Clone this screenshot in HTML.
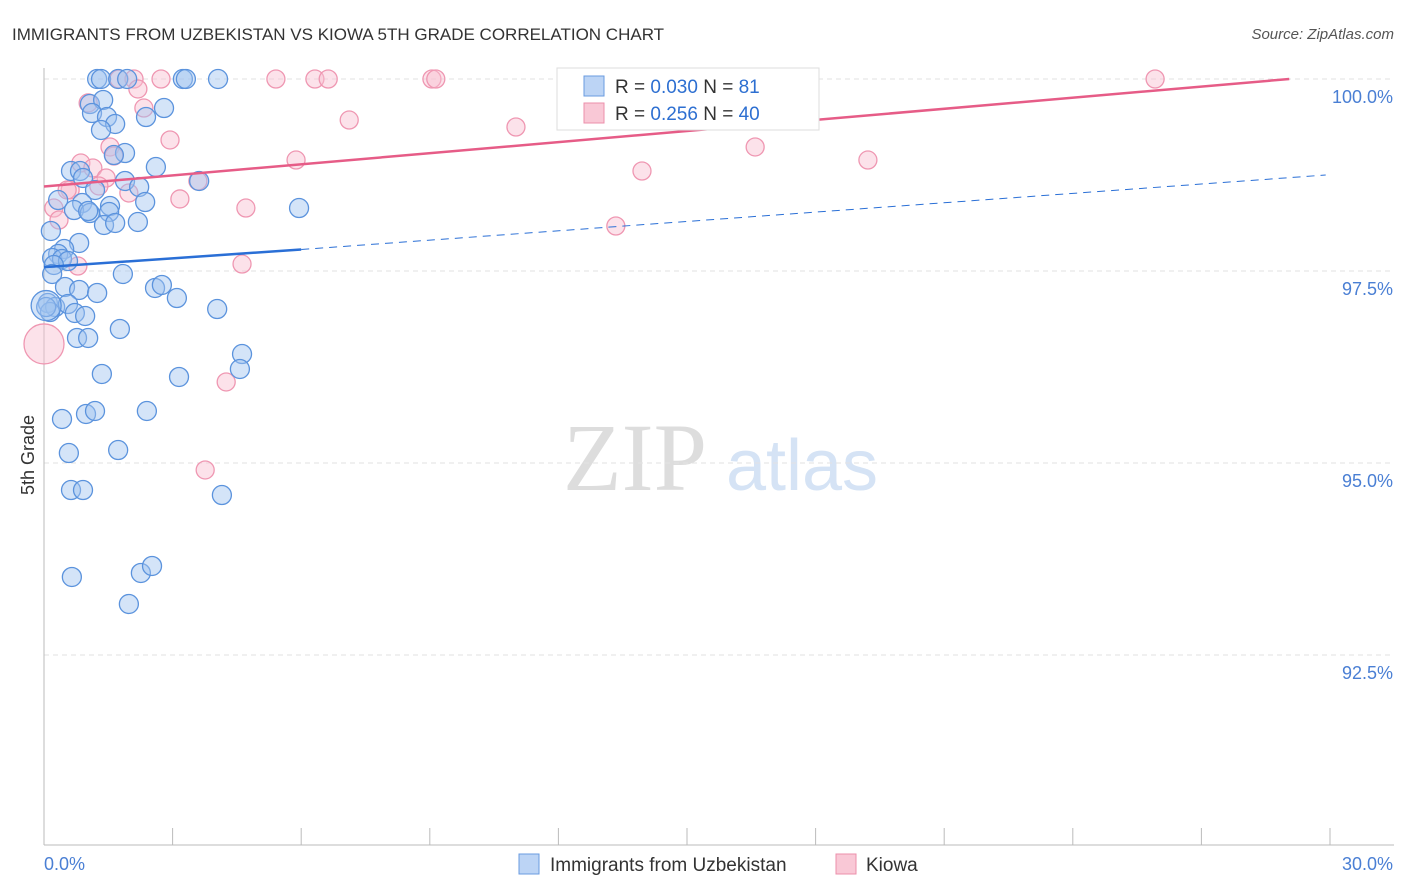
<!DOCTYPE html>
<html><head><meta charset="utf-8"><style>
body{margin:0;background:#fff;font-family:"Liberation Sans",sans-serif}
svg{display:block}
</style></head><body>
<svg id="c" width="1406" height="892">
<text x="12" y="40" font-size="17" fill="#333">IMMIGRANTS FROM UZBEKISTAN VS KIOWA 5TH GRADE CORRELATION CHART</text>
<text x="1394" y="39" font-size="15" fill="#555" font-style="italic" text-anchor="end">Source: ZipAtlas.com</text>
<text x="34" y="455" font-size="18" fill="#333" text-anchor="middle" transform="rotate(-90 34 455)">5th Grade</text>
<g><text x="635" y="490" font-size="96" fill="#ddd" font-family="Liberation Serif,serif" text-anchor="middle">ZIP</text><text x="802" y="490" font-size="72" fill="#d5e3f5" text-anchor="middle">atlas</text></g>
<g id="grid"></g><g id="axes"></g><g id="pts"></g><g id="lines"></g>
<g>
<rect x="557" y="68" width="262" height="62" fill="#fff" stroke="#ddd"/>
<rect x="584" y="76" width="20" height="20" fill="#bcd4f5" stroke="#6a9be0"/>
<rect x="584" y="103" width="20" height="20" fill="#f9c8d6" stroke="#ec8fab"/>
<text x="615" y="93" font-size="19" fill="#333">R = <tspan fill="#2d6fd1">0.030</tspan>   N =  <tspan fill="#2d6fd1">81</tspan></text>
<text x="615" y="120" font-size="19" fill="#333">R =  <tspan fill="#2d6fd1">0.256</tspan>   N = <tspan fill="#2d6fd1">40</tspan></text>
</g>
<g>
<rect x="519" y="854" width="20" height="20" fill="#bcd4f5" stroke="#6a9be0"/>
<text x="550" y="871" font-size="19" fill="#333">Immigrants from Uzbekistan</text>
<rect x="836" y="854" width="20" height="20" fill="#f9c8d6" stroke="#ec8fab"/>
<text x="866" y="871" font-size="19" fill="#333">Kiowa</text>
</g>
</svg>
<script>
const yTicks=[100,97.5,95,92.5];
const yTickLabels=["100.0%","97.5%","95.0%","92.5%"];
const xEndLabels=["0.0%","30.0%"];
const bluePx=[[97,79],[101,79],[118,79],[127,79],[183,79],[186,79],[218,79],[90,104],[103,100],[92,113],[107,117],[115,124],[164,108],[146,117],[101,130],[125,153],[114,155],[71,171],[80,171],[156,167],[83,178],[125,181],[139,187],[95,190],[58,200],[82,203],[110,206],[145,202],[199,181],[299,208],[74,210],[90,213],[88,211],[109,212],[138,222],[104,225],[115,223],[51,231],[79,243],[64,249],[58,254],[52,258],[62,259],[68,261],[54,265],[52,274],[123,274],[65,287],[79,290],[97,293],[155,288],[162,285],[177,298],[217,309],[48,303],[55,307],[68,304],[75,313],[85,316],[50,312],[120,329],[77,338],[88,338],[242,354],[240,369],[102,374],[179,377],[62,419],[86,414],[95,411],[147,411],[69,453],[118,450],[71,490],[83,490],[222,495],[72,577],[141,573],[152,566],[129,604],[46,307]];
const pinkPx=[[119,79],[161,79],[134,79],[276,79],[315,79],[328,79],[432,79],[436,79],[737,79],[1155,79],[138,89],[88,103],[144,108],[349,120],[170,140],[516,127],[110,147],[114,156],[755,147],[868,160],[296,160],[81,163],[93,168],[642,171],[106,178],[70,190],[99,186],[198,181],[129,193],[180,199],[54,208],[246,208],[59,220],[616,226],[78,266],[242,264],[226,382],[205,470],[67,190]];
// convert read pixel positions to data values (x in %, y in %)
const blueX=bluePx.map(p=>+((p[0]-44)/1286*30).toFixed(2));
const blueY=bluePx.map(p=>+(100-(p[1]-79)/192*2.5).toFixed(3));
const pinkX=pinkPx.map(p=>+((p[0]-44)/1286*30).toFixed(2));
const pinkY=pinkPx.map(p=>+(100-(p[1]-79)/192*2.5).toFixed(3));
const blueBig=[[0.05,97.05]];const pinkBig=[[0.0,96.55]];
const blueTrend=[[0,97.55],[6.0,97.78],[29.9,98.75]];
const pinkTrend=[[0,98.6],[29.05,100]];
const X=v=>44+v/30*1286, Y=v=>79+(100-v)/2.5*192;
const NS="http://www.w3.org/2000/svg";
function mk(t,a,p){const e=document.createElementNS(NS,t);for(const k in a)e.setAttribute(k,a[k]);document.getElementById(p).appendChild(e);return e;}
yTicks.forEach((t,i)=>{
 const g=mk('line',{x1:44,x2:1394,y1:Y(t),y2:Y(t),stroke:'#e2e2e2','stroke-dasharray':'5,4'},'grid');
 
 
 const l=mk('text',{x:1393,y:Y(t)+24,'font-size':18,fill:'#4a7fd4','text-anchor':'end'},'axes');
 l.textContent=yTickLabels[i];
 
 
});
mk('line',{x1:44,x2:44,y1:68,y2:845,stroke:'#bbb'},'axes');
mk('line',{x1:44,x2:1394,y1:845,y2:845,stroke:'#bbb'},'axes');
for(let i=1;i<=10;i++){mk('line',{x1:X(i*3),x2:X(i*3),y1:828,y2:845,stroke:'#bbb'},'axes');}
const xl0=mk('text',{x:44,y:870,'font-size':18,fill:'#4a7fd4'},'axes');xl0.textContent=xEndLabels[0];


const xl1=mk('text',{x:1393,y:870,'font-size':18,fill:'#4a7fd4','text-anchor':'end'},'axes');xl1.textContent=xEndLabels[1];


function dot(x,y,r,blue){const c=mk('circle',{cx:X(x),cy:Y(y),r:r,fill:blue?'rgba(160,195,240,0.45)':'rgba(248,190,208,0.45)',stroke:blue?'#5b93dd':'#ef97b2','stroke-width':1.3},'pts');
 
 }
pinkX.forEach((x,i)=>dot(x,pinkY[i],9,false));
pinkBig.forEach(p=>dot(p[0],p[1],20,false));
blueX.forEach((x,i)=>dot(x,blueY[i],9.5,true));
blueBig.forEach(p=>dot(p[0],p[1],15,true));
const b1=mk('line',{x1:X(blueTrend[0][0]),y1:Y(blueTrend[0][1]),x2:X(blueTrend[1][0]),y2:Y(blueTrend[1][1]),stroke:'#2a6fd6','stroke-width':2.5},'lines');


const b2=mk('line',{x1:X(blueTrend[1][0]),y1:Y(blueTrend[1][1]),x2:X(blueTrend[2][0]),y2:Y(blueTrend[2][1]),stroke:'#2a6fd6','stroke-width':1,'stroke-dasharray':'8,6'},'lines');


const p1=mk('line',{x1:X(pinkTrend[0][0]),y1:Y(pinkTrend[0][1]),x2:X(pinkTrend[1][0]),y2:Y(pinkTrend[1][1]),stroke:'#e65c87','stroke-width':2.5},'lines');


</script>
</body></html>
